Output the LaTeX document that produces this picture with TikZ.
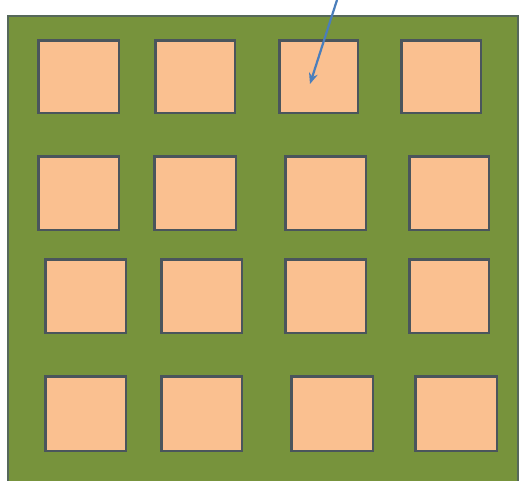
\documentclass[tikz,border=0pt]{standalone}
\usetikzlibrary{arrows.meta}
\definecolor{boardgreen}{HTML}{77933C}
\definecolor{boardedge}{HTML}{56685A}
\definecolor{padfill}{HTML}{FAC090}
\definecolor{padedge}{HTML}{4A555C}
\definecolor{arrowblue}{HTML}{4A7EBB}
\tikzset{
  pad/.style 2 args={draw=padedge, fill=padfill, line width=2.6pt, inner sep=0pt,
    anchor=north west, xshift=1.3pt, yshift=-1.3pt,
    minimum width=#1pt-2.6pt, minimum height=#2pt-2.6pt},
  pointer/.style={draw=arrowblue, line width=2.2pt, -{Stealth[length=11pt,width=9pt]}}
}
\begin{document}
\begin{tikzpicture}[x=1pt,y=-1pt]
\useasboundingbox (0,0) rectangle (523,481);
\fill[white] (0,0) rectangle (523,481);
\draw[boardedge, fill=boardgreen, line width=1.6pt] (8,16) rectangle (518,484);
% row 1
\node[pad={83}{75}] (p11) at (36,38) {};
\node[pad={82}{75}] (p12) at (153,38) {};
\node[pad={81}{75}] (p13) at (277,38) {};
\node[pad={82}{75}] (p14) at (399,38) {};
% row 2
\node[pad={83}{76}] (p21) at (36,154) {};
\node[pad={84}{76}] (p22) at (152,154) {};
\node[pad={83}{76}] (p23) at (283,154) {};
\node[pad={82}{76}] (p24) at (407,154) {};
% row 3
\node[pad={83}{76}] (p31) at (43,257) {};
\node[pad={83}{76}] (p32) at (159,257) {};
\node[pad={83}{76}] (p33) at (283,257) {};
\node[pad={82}{76}] (p34) at (407,257) {};
% row 4
\node[pad={83}{77}] (p41) at (43,374) {};
\node[pad={83}{77}] (p42) at (159,374) {};
\node[pad={84}{77}] (p43) at (289,374) {};
\node[pad={84}{77}] (p44) at (413,374) {};
% pointer
\coordinate (src) at (337,0);
\coordinate (tip) at (310,84);
\draw[pointer] (src) -- (tip);
\end{tikzpicture}
\end{document}
